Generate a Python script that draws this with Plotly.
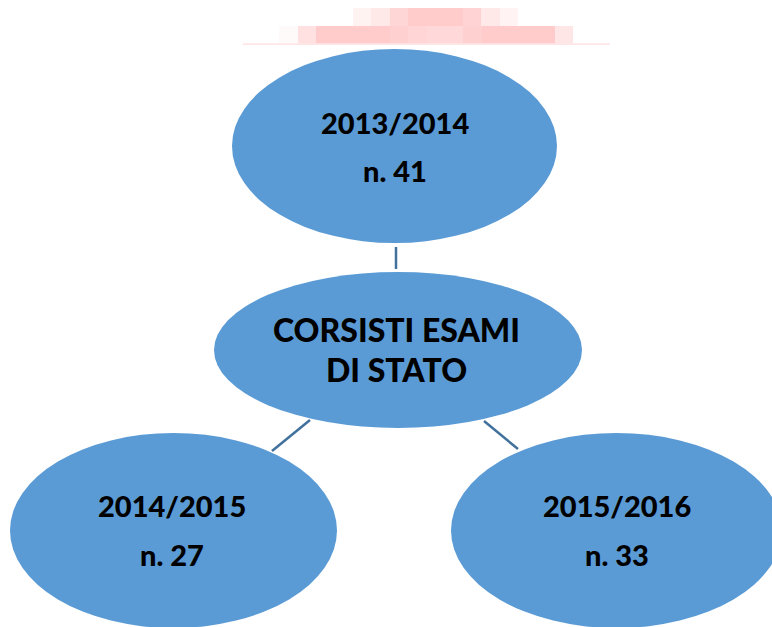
import plotly.graph_objects as go

# ---- data ----
center_label = ["CORSISTI ESAMI", "DI STATO"]
years = ["2013/2014", "2014/2015", "2015/2016"]
counts = [41, 27, 33]

# ---- layout (pixel space, y downwards) ----
W, H = 772, 627
FILL = "#5B9BD5"
LINE = "#41719C"
FONT = "Lato"

# ellipse boxes: (x0, x1, y0, y1)
center_box = (214, 582, 272, 428)
year_boxes = [(232, 557, 49, 243), (10, 337, 433, 628), (451, 782, 433, 628)]
# label centres: (x, y_line1, y_line2)
year_text_pos = [(394.5, 122, 170), (172, 505, 554), (616.5, 505, 554)]
center_text_pos = (396.5, 329, 369)
connectors = [((396, 247), (396, 269)), ((310, 420), (272, 451)), ((484, 421), (518, 449))]

# pixelated redacted strip at the top
blocks_upper = [(353, 371, "#fff3f2"), (371, 390, "#ffe8e8"), (390, 408, "#ffd6d6"),
                (408, 463, "#ffcbcb"), (463, 481, "#ffd3d3"), (481, 500, "#ffe8e8"),
                (500, 518, "#fff4f3")]
blocks_lower = [(279, 298, "#fffafa"), (298, 316, "#ffe1e1"), (316, 390, "#ffcbcb"),
                (390, 408, "#ffd0d0"), (408, 427, "#ffd5d5"), (427, 463, "#ffd9d9"),
                (463, 482, "#ffd0d0"), (482, 555, "#ffcbcb"), (555, 573, "#ffe6e6")]

fig = go.Figure()
shapes = []
for x0, x1, c in blocks_upper:
    shapes.append(dict(type="rect", x0=x0, x1=x1, y0=8, y1=26, fillcolor=c, line_width=0, layer="below"))
for x0, x1, c in blocks_lower:
    shapes.append(dict(type="rect", x0=x0, x1=x1, y0=26, y1=43.5, fillcolor=c, line_width=0, layer="below"))
shapes.append(dict(type="rect", x0=243, x1=610, y0=43.5, y1=44.8, fillcolor="#ffdcdc", line_width=0, layer="below"))

for (a, b) in connectors:
    shapes.append(dict(type="line", x0=a[0], y0=a[1], x1=b[0], y1=b[1],
                       line=dict(color=LINE, width=2.5)))
for (x0, x1, y0, y1) in [center_box] + year_boxes:
    shapes.append(dict(type="circle", x0=x0, x1=x1, y0=y0, y1=y1,
                       fillcolor=FILL, line_width=0))

annotations = []
cx, cy1, cy2 = center_text_pos
for txt, yy in zip(center_label, [cy1, cy2]):
    annotations.append(dict(x=cx, y=yy, text=txt, showarrow=False,
                            xanchor="center", yanchor="middle",
                            font=dict(family=FONT, size=32, color="black", weight=900)))
for yr, n, (x, y1, y2) in zip(years, counts, year_text_pos):
    annotations.append(dict(x=x, y=y1, text=yr, showarrow=False,
                            xanchor="center", yanchor="middle",
                            font=dict(family=FONT, size=29, color="black", weight=900)))
    annotations.append(dict(x=x, y=y2, text=f"n. {n}", showarrow=False,
                            xanchor="center", yanchor="middle",
                            font=dict(family=FONT, size=29, color="black", weight=900)))

fig.update_layout(
    width=W, height=H,
    margin=dict(l=0, r=0, t=0, b=0),
    paper_bgcolor="white", plot_bgcolor="white",
    xaxis=dict(range=[0, W], visible=False, fixedrange=True),
    yaxis=dict(range=[H, 0], visible=False, fixedrange=True),
    shapes=shapes, annotations=annotations, showlegend=False,
)
fig.write_html("out.html", config={"displayModeBar": False},
               post_script="document.body.style.margin='0';document.body.style.overflow='hidden';")
